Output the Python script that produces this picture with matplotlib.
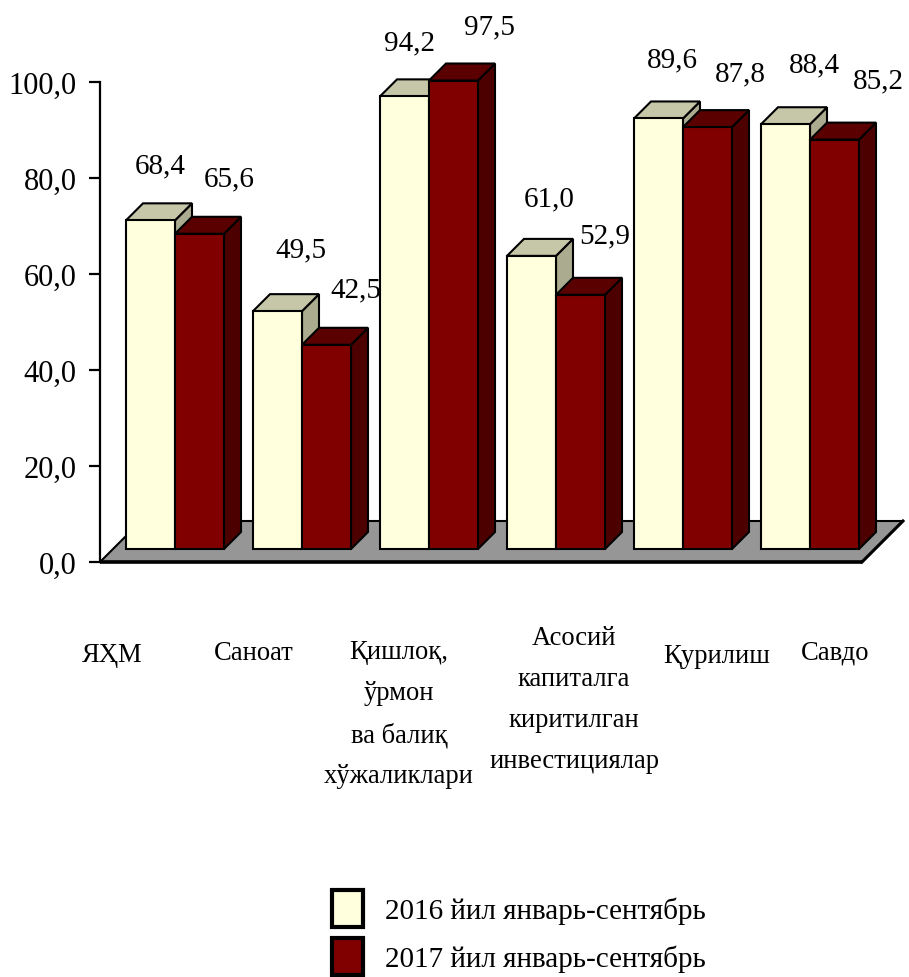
import matplotlib
matplotlib.use("Agg")
import matplotlib.pyplot as plt
from matplotlib.patches import Polygon, Patch

plt.rcParams['font.family'] = ['Liberation Serif', 'DejaVu Serif']

categories = ["ЯҲМ", "Саноат", "Қишлоқ,\nўрмон\nва балиқ\nхўжаликлари",
              "Асосий\nкапиталга\nкиритилган\nинвестициялар", "Қурилиш", "Савдо"]
values_2016 = [68.4, 49.5, 94.2, 61.0, 89.6, 88.4]
values_2017 = [65.6, 42.5, 97.5, 52.9, 87.8, 85.2]
series_names = ["2016 йил январь-сентябрь", "2017 йил январь-сентябрь"]
y_ticks = [0, 20, 40, 60, 80, 100]

# layout, in pixels of the 909x978 figure
W, H = 909, 978
L, R, T, B = 100, 862, 82.5, 563
fig = plt.figure(figsize=(W / 100, H / 100), dpi=100)
ax = fig.add_axes([L / W, 1 - B / H, (R - L) / W, (B - T) / H])
ax.set_xlim(0, 6)
ax.set_ylim(0, 100)
ux = 6 / (R - L)     # data units per px, x
uy = 100 / (B - T)   # data units per px, y
LW = 1.5

# labels' offsets from the front-top-centre of each bar, px
lab_dx = [[10, 30], [23, 29], [5, 36], [18, 24], [14, 33], [29, 44]]
lab_dy = [[55, 55], [62, 55], [54, 54], [58, 59], [59, 54], [60, 59]]
cat_x = [112, 254, 399, 574, 717, 835]
cat_top = [643, 641, 640, 626, 644, 641]

ax.patch.set_visible(False)
for s in ['top', 'right', 'bottom']:
    ax.spines[s].set_visible(False)
ax.spines['left'].set_linewidth(1.6)
ax.set_xticks([])
ax.set_yticks(y_ticks)
ax.set_yticklabels([f"{v:.1f}".replace('.', ',') for v in y_ticks], fontsize=22)
ax.tick_params(axis='y', length=8, width=1.6, pad=9)

# floor
fd = 41
floor = Polygon([(0, 0), (6, 0), (6 + fd * ux, fd * uy), (fd * ux, fd * uy)],
                closed=True, fc='#969696', ec='black', lw=LW, clip_on=False, zorder=1)
ax.add_patch(floor)
ax.plot([0, 6], [0, 0], color='black', lw=2.6, clip_on=False, zorder=2, solid_capstyle='butt')
ax.plot([6, 6 + fd * ux], [0, fd * uy], color='black', lw=2.2, clip_on=False, zorder=2)

base = 13 * uy
bw = 49 * ux
d = 17 * ux
e = 17 * uy
shift = 11.5 * ux


def bar3d(x0, v, front, top, side, z):
    y0, y1 = base, base + v
    x1 = x0 + bw
    kw = dict(closed=True, ec='black', lw=LW, joinstyle='miter', clip_on=False, zorder=z)
    ax.add_patch(Polygon([(x1, y0), (x1 + d, y0 + e), (x1 + d, y1 + e), (x1, y1)], fc=side, **kw))
    ax.add_patch(Polygon([(x0, y1), (x1, y1), (x1 + d, y1 + e), (x0 + d, y1 + e)], fc=top, **kw))
    ax.add_patch(Polygon([(x0, y0), (x1, y0), (x1, y1), (x0, y1)], fc=front, **kw))


styles = [('#FFFFDD', '#C6C6A8', '#ABAB8F'), ('#800000', '#5A0000', '#4D0000')]
for i in range(len(categories)):
    c = i + 0.5 + shift
    for j, vals in enumerate((values_2016, values_2017)):
        x0 = c - bw + j * bw
        bar3d(x0, vals[i], *styles[j], z=3 + i * 2 + j * 0.5)
        ax.annotate(f"{vals[i]:.1f}".replace('.', ','),
                    xy=(x0 + bw / 2, base + vals[i]), xycoords='data',
                    xytext=(lab_dx[i][j] * 0.72, lab_dy[i][j] * 0.72), textcoords='offset points',
                    ha='center', va='center', fontsize=21, zorder=30, annotation_clip=False)

for name, x, top in zip(categories, cat_x, cat_top):
    fig.text(x / W, 1 - top / H, name, ha='center', va='top', fontsize=19.2, linespacing=1.85)

handles = [Patch(fc=styles[0][0], ec='black', lw=3), Patch(fc=styles[1][0], ec='black', lw=3)]
fig.legend(handles, series_names, loc='upper left', bbox_to_anchor=(332 / W, 1 - 891 / H),
           frameon=False, fontsize=21, handlelength=1.05, handleheight=1.58,
           handletextpad=0.77, labelspacing=0.38, borderpad=0, borderaxespad=0)

fig.savefig("out.png", dpi=100)
